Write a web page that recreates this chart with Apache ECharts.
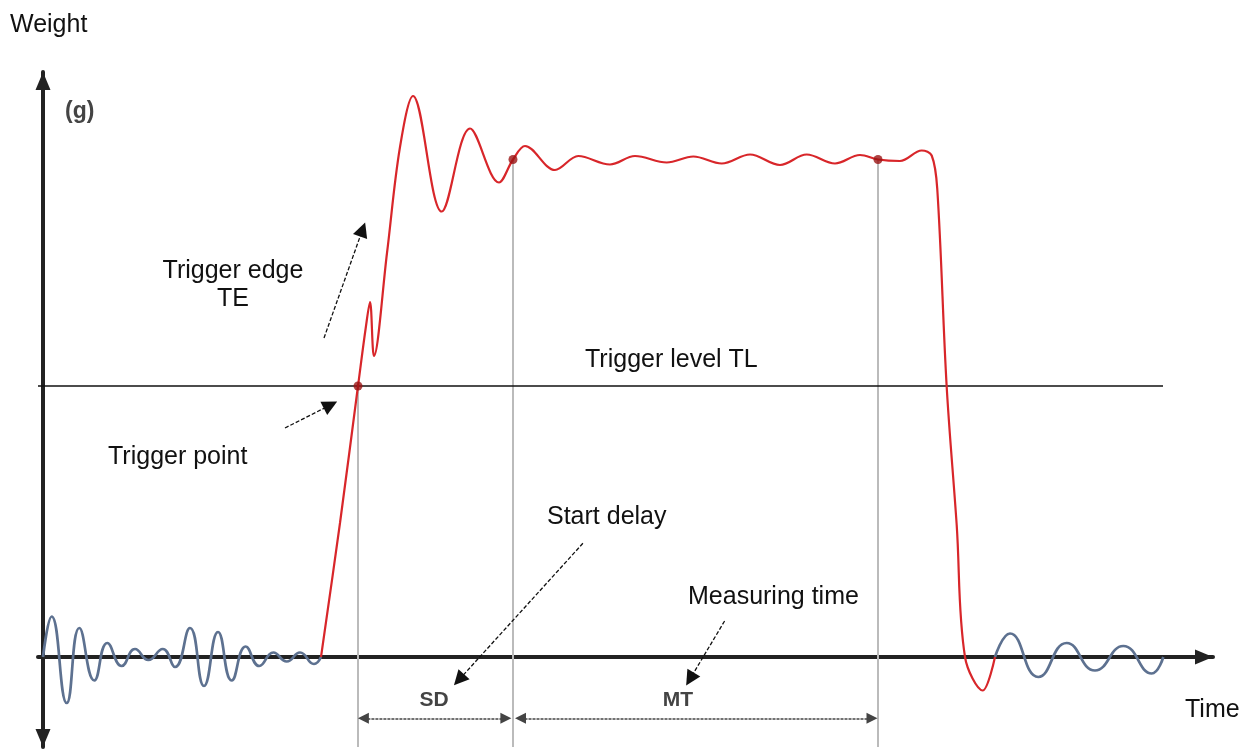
<!DOCTYPE html>
<html><head><meta charset="utf-8">
<script src="https://cdn.jsdelivr.net/npm/echarts@6/dist/echarts.min.js"></script>
<style>html,body{margin:0;padding:0;background:#fff}#c{width:1240px;height:749px}</style>
</head><body><div id="c"></div>
<script>
// time (ms, arbitrary units) , weight (g, arbitrary units)
const noiseBefore = [[0,0],[0.87,8.1],[2.37,-9.2],[3.63,5.8],[5.13,-4.7],[6.43,2.8],[7.87,-1.8],[9.2,1.6],[10.53,-0.6],[11.97,1.6],[13.2,-2.0],[14.7,5.8],[16.1,-5.8],[17.5,5.0],[18.87,-4.7],[20.27,2.1],[21.63,-1.8],[23.03,0.9],[24.37,-0.9],[25.7,0.9],[27.1,-1.4],[27.8,0]];
const signal = [[27.8,0],[29.7,26.8],[31.5,54.2],[32.3,66.2],[32.7,71],[33.1,60.2],[34.4,80.8],[35.7,102],[37.0,112.2],[39.87,89.1],[42.7,105.7],[45.6,94.9],[47.0,99.5],[48.2,102.2],[51.2,97.4],[53.53,100.2],[56.7,98.5],[59.2,100.2],[62.37,98.9],[65.03,100.1],[67.87,98.7],[70.7,100.5],[73.7,98.4],[76.37,100.5],[79.2,98.7],[81.7,100.4],[83.5,99.5],[85.7,99.2],[87.87,101.3],[88.87,100.3],[89.43,93.5],[90.37,54],[91.37,26.4],[92.2,0],[93.97,-6.7],[95.2,0]];
const noiseAfter = [[95.2,0],[96.7,4.7],[99.53,-4.0],[102.37,2.8],[105.2,-2.7],[108.03,2.2],[110.87,-3.3],[112.03,0]];
const triggerLevel = 54.2;
const markedPoints = [[31.5,54.2],[47.0,99.5],[83.5,99.5]];
const sdSpan = [32.04, 46.29];
const mtSpan = [47.75, 82.9];
const dimLevel = -12.26;
const axisRange = { xMin: -0.5, xMax: 117, yMin: -18, yMax: 117 };
const tlRange = [-0.5, 112.0];
const annotationArrows = [
  { name: 'Trigger edge', from: [28.1, 63.8], to: [31.96, 85.5] },
  { name: 'Trigger point', from: [24.2, 45.8], to: [28.75, 50.4] },
  { name: 'Start delay', from: [53.99, 22.74], to: [41.6, -4.56] },
  { name: 'Measuring time', from: [68.16, 7.2], to: [64.7, -4.4] }
];

const chart = echarts.init(document.getElementById('c'));
const F = '"Liberation Sans", Arial, sans-serif';
const FN = '"Liberation Sans Narrow", "Liberation Sans", Arial, sans-serif';
function txt(text, x, y, opt) {
  return Object.assign({ type: 'text', x: x, y: y, silent: true, z: 50,
    style: Object.assign({ text: text, fontFamily: F, fontSize: 25, fill: '#111', textVerticalAlign: 'middle', textAlign: 'left' }, opt || {}) });
}
const option = {
  animation: false,
  backgroundColor: '#fff',
  grid: { left: 38, width: 1175, top: 72, height: 675, containLabel: false },
  xAxis: { type: 'value', min: axisRange.xMin, max: axisRange.xMax,
    axisLine: { show: true, onZero: true, symbol: ['none', 'triangle'], symbolSize: [15, 18], symbolOffset: [0, -9], lineStyle: { color: '#222', width: 4 } },
    axisTick: { show: false }, axisLabel: { show: false }, splitLine: { show: false } },
  yAxis: { type: 'value', min: axisRange.yMin, max: axisRange.yMax,
    axisLine: { show: true, onZero: true, symbol: ['triangle', 'triangle'], symbolSize: [15, 18], symbolOffset: [9, -9], lineStyle: { color: '#222', width: 4 } },
    axisTick: { show: false }, axisLabel: { show: false }, splitLine: { show: false } },
  series: [
    { type: 'lines', coordinateSystem: 'cartesian2d', silent: true, z: 1,
      symbol: ['none', 'none'], lineStyle: { color: '#bbbbbb', width: 2, opacity: 1 },
      data: markedPoints.map(p => ({ coords: [[p[0], p[1]], [p[0], axisRange.yMin]] })) },
    { type: 'lines', coordinateSystem: 'cartesian2d', silent: true, z: 2,
      symbol: ['none', 'none'], lineStyle: { color: '#111', width: 1.5, opacity: 1 },
      data: [{ coords: [[tlRange[0], triggerLevel], [tlRange[1], triggerLevel]] }] },
    { type: 'lines', coordinateSystem: 'cartesian2d', silent: true, z: 3,
      symbol: ['triangle', 'triangle'], symbolSize: 11, lineStyle: { color: '#444', width: 1.5, type: [3, 1], opacity: 1 },
      data: [
        { coords: [[sdSpan[0], dimLevel], [sdSpan[1], dimLevel]] },
        { coords: [[mtSpan[0], dimLevel], [mtSpan[1], dimLevel]] }
      ] },
    { type: 'lines', coordinateSystem: 'cartesian2d', silent: true, z: 3,
      symbol: ['none', 'triangle'], symbolSize: 15, lineStyle: { color: '#111', width: 1.3, type: [4, 2], opacity: 1 },
      data: annotationArrows.map(a => ({ coords: [a.from, a.to] })) },
    { type: 'line', data: noiseBefore, smooth: 0.5, showSymbol: false, z: 4,
      lineStyle: { color: '#5d7190', width: 2.7 } },
    { type: 'line', data: noiseAfter, smooth: 0.5, showSymbol: false, z: 4,
      lineStyle: { color: '#5d7190', width: 2.7 } },
    { type: 'line', data: signal, smooth: 0.35, showSymbol: false, z: 5,
      lineStyle: { color: '#d8262a', width: 2.2 } },
    { type: 'scatter', data: markedPoints, symbolSize: 9, z: 6, itemStyle: { color: '#9a1414' } }
  ],
  graphic: [
    txt('Weight', 10, 25),
    txt('(g)', 65, 112, { fontFamily: FN, fontWeight: 'bold', fontSize: 23, fill: '#444' }),
    txt('Trigger edge', 233, 271, { textAlign: 'center' }),
    txt('TE', 233, 299, { textAlign: 'center' }),
    txt('Trigger level TL', 585, 360),
    txt('Trigger point', 108, 457),
    txt('Start delay', 547, 517),
    txt('Measuring time', 688, 597),
    txt('Time', 1185, 710),
    txt('SD', 434, 700, { textAlign: 'center', fontFamily: FN, fontWeight: 'bold', fontSize: 21, fill: '#444' }),
    txt('MT', 678, 700, { textAlign: 'center', fontFamily: FN, fontWeight: 'bold', fontSize: 21, fill: '#444' })
  ]
};
chart.setOption(option);
</script>
</body></html>
